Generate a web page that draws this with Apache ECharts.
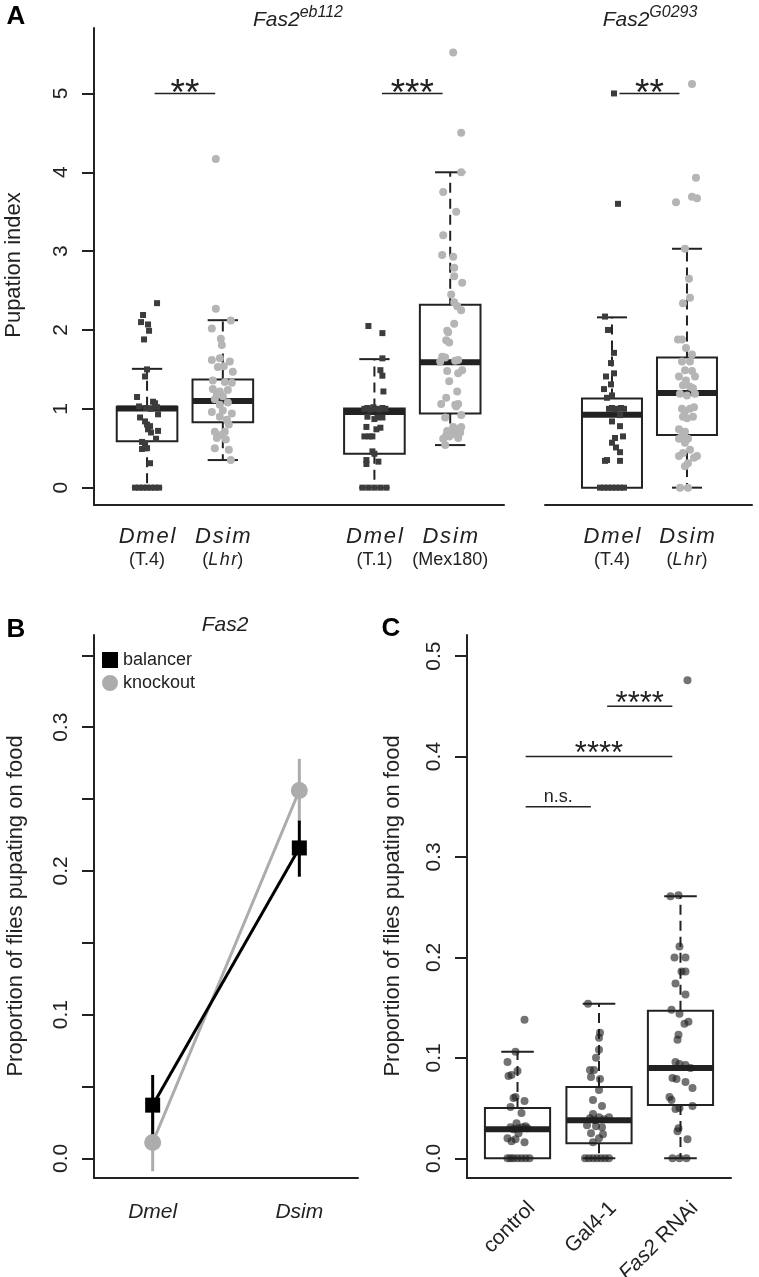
<!DOCTYPE html>
<html>
<head>
<meta charset="utf-8">
<script src="https://cdn.jsdelivr.net/npm/echarts@6/dist/echarts.min.js"></script>
<style>
  html, body { margin: 0; padding: 0; background: #fff; }
  #main { width: 759px; height: 1277px; }
</style>
</head>
<body>
<div id="main"></div>
<script>
const FONT = '"Liberation Sans", Arial, Helvetica, sans-serif';
const INK = '#222';

// ---------- panel A : pupation index ----------
const aSpecies = ['Dmel', 'Dsim', 'Dmel', 'Dsim', 'Dmel', 'Dsim'];
const aStrains = ['T.4', 'Lhr', 'T.1', 'Mex180', 'T.4', 'Lhr'];
const aItalicStrain = [false, true, false, false, false, true];
const aSlots = [1, 2, 4, 5, 1, 2];   // slot on the sub-plot x axis
const aPlot = [0, 0, 0, 0, 1, 1];    // 0 = Fas2 eb112, 1 = Fas2 G0293
// [lower whisker, q1, median, q3, upper whisker]
const aBoxes = [
  [0, 0.587, 1.005, 1.025, 1.507],
  [0.35, 0.831, 1.10, 1.372, 2.124],
  [0, 0.43, 0.96, 1.005, 1.63],
  [0.54, 0.94, 1.59, 2.32, 4.0],
  [0, 0, 0.925, 1.13, 2.16],
  [0, 0.667, 1.20, 1.65, 3.03]
];
const aTicks = [0, 1, 2, 3, 4, 5];
// [from slot, to slot, y, text] per sub-plot
const aSignifEb = [[1, 2, 5, '**'], [4, 5, 5, '***']];
const aSignifG0293 = [[1, 2, 5, '**']];

// points: [jitter (px), pupation index]
const ptsEbDmelT4 = [[10,2.34],[-4,2.19],[-6,2.10],[1,2.07],[2,1.99],[-3,1.88],[0,1.50],[-2,1.41],
  [-10,1.15],[-8,1.03],[6,1.09],[8,1.07],[10,1.02],[4,1.00],[-1,1.01],[-7,0.89],[11,0.93],[-2,0.84],
  [0,0.80],[3,0.78],[1,0.74],[11,0.72],[4,0.70],[9,0.62],[-5,0.58],[-2,0.56],[-5,0.49],[0,0.50],
  [3,0.31],[-12,0],[-8,0],[-4,0],[0,0],[4,0],[8,0],[12,0]];
const ptsEbDsimLhr = [[-7,4.17],[-7,2.27],[8,2.12],[-11,2.02],[-2,1.89],[-1,1.81],[-11,1.62],[-3,1.64],
  [7,1.60],[-5,1.53],[1,1.54],[10,1.47],[-10,1.36],[2,1.34],[9,1.33],[-10,1.25],[-3,1.22],[5,1.24],
  [-6,1.18],[0,1.16],[-8,1.12],[5,1.08],[-3,1.05],[-11,0.96],[0,0.98],[9,0.94],[-3,0.90],[4,0.86],
  [6,0.80],[-8,0.71],[-1,0.67],[2,0.71],[-6,0.63],[3,0.61],[-8,0.50],[6,0.48],[8,0.35]];
const ptsEbDmelT1 = [[-6,2.05],[8,1.96],[8,1.64],[6,1.49],[8,1.42],[9,1.22],[-10,1.0],[-7,1.01],
  [-4,0.99],[-1,1.02],[2,1.0],[5,0.99],[8,1.01],[11,1.0],[-7,0.90],[3,0.89],[8,0.89],[0,0.87],
  [6,0.76],[2,0.74],[-8,0.77],[-10,0.65],[-5,0.65],[-2,0.65],[-2,0.46],[0,0.43],[-8,0.35],[4,0.33],
  [-8,0.30],[-12,0],[-6,0],[0,0],[6,0],[12,0]];
const ptsEbDsimMex180 = [[3,5.52],[11,4.50],[11,4.00],[-7,3.75],[6,3.50],[-7,3.20],[-8,2.95],[3,2.93],
  [4,2.79],[4,2.68],[12,2.60],[1,2.45],[4,2.35],[7,2.30],[11,2.25],[4,2.08],[-3,1.99],[-2,1.97],
  [-4,1.87],[-1,1.84],[-8,1.66],[-5,1.65],[5,1.61],[8,1.62],[-10,1.60],[12,1.49],[-3,1.48],[8,1.45],
  [-1,1.35],[7,1.22],[-4,1.14],[-9,1.06],[5,1.05],[8,1.06],[6,1.03],[11,0.92],[-5,0.89],[3,0.77],
  [11,0.77],[7,0.74],[-3,0.72],[10,0.70],[3,0.68],[-4,0.66],[-7,0.62],[-1,0.65],[8,0.63],[-5,0.54]];
const ptsG0293DmelT4 = [[2,5.00],[6,3.60],[-7,2.17],[-4,2.00],[2,1.71],[-1,1.58],[2,1.45],[-6,1.41],
  [-1,1.31],[-8,1.25],[0,1.17],[-5,1.14],[-3,1.0],[0,1.01],[3,0.99],[6,1.0],[9,1.01],[12,1.0],
  [8,0.92],[0,0.84],[8,0.78],[11,0.65],[3,0.63],[0,0.57],[4,0.51],[8,0.45],[-5,0.35],[-7,0.34],
  [8,0.34],[-12,0],[-8,0],[-4,0],[0,0],[4,0],[8,0],[12,0]];
const ptsG0293DsimLhr = [[5,5.12],[9,3.93],[5,3.69],[10,3.67],[-11,3.62],[-2,3.03],[2,2.65],[3,2.41],
  [-4,2.34],[-9,1.88],[-5,1.88],[-1,1.77],[5,1.69],[-5,1.60],[3,1.60],[-2,1.49],[5,1.48],[-8,1.41],
  [8,1.41],[-1,1.36],[-4,1.30],[3,1.28],[6,1.26],[-7,1.19],[0,1.17],[8,1.19],[-5,1.00],[3,1.00],
  [7,1.02],[-2,0.97],[0,0.88],[6,0.90],[-4,0.90],[-8,0.74],[-2,0.71],[-5,0.65],[1,0.62],[-8,0.62],
  [-2,0.57],[3,0.48],[-4,0.44],[10,0.40],[7,0.38],[-8,0.40],[1,0.31],[-2,0.27],[-7,0],[1,0]];
const aPoints = [ptsEbDmelT4, ptsEbDsimLhr, ptsEbDmelT1, ptsEbDsimMex180, ptsG0293DmelT4, ptsG0293DsimLhr];

// ---------- panel B : Fas2 balancer vs knockout ----------
const bSpecies = ['Dmel', 'Dsim'];
const balancerMean = [0.037, 0.216];
const balancerLow = [0.016, 0.196];
const balancerHigh = [0.058, 0.235];
const knockoutMean = [0.011, 0.256];
const knockoutLow = [-0.009, 0.234];
const knockoutHigh = [0.031, 0.278];
const bTicks = [0, 0.05, 0.1, 0.15, 0.2, 0.25, 0.3, 0.35];
const bLabels = [0, 0.1, 0.2, 0.3];

// ---------- panel C : RNAi ----------
const cGroups = ['control', 'Gal4-1', 'Fas2 RNAi'];
const cBoxes = [
  [0, 0, 0.029, 0.050, 0.106],
  [0, 0.015, 0.038, 0.071, 0.154],
  [0, 0.053, 0.090, 0.147, 0.261]
];
const cTicks = [0, 0.1, 0.2, 0.3, 0.4, 0.5];
const cSignif = [[1, 2, 0.35, 'n.s.'], [1, 3, 0.40, '****'], [2, 3, 0.45, '****']];
const ptsControl = [[7,0.138],[-2,0.106],[-10,0.096],[0,0.087],[-9,0.082],[-6,0.083],[-2,0.061],
  [-4,0.060],[7,0.057],[4,0.045],[-7,0.051],[-1,0.035],[-7,0.031],[-4,0.029],[1,0.030],[5,0.031],
  [8,0.032],[10,0.030],[1,0.025],[-10,0.020],[-2,0.019],[-6,0.017],[7,0.016],[-10,0],[-7,0],[-4,0],
  [0,0],[4,0],[8,0],[12,0]];
const ptsGal4 = [[-11,0.154],[1,0.125],[0,0.120],[0,0.108],[-3,0.100],[-5,0.088],[-9,0.088],[1,0.079],
  [-8,0.081],[0,0.068],[-6,0.058],[3,0.052],[-6,0.044],[0,0.041],[-9,0.040],[5,0.039],[10,0.041],
  [-4,0.038],[-12,0.033],[-3,0.032],[3,0.031],[-8,0.025],[4,0.024],[-6,0.016],[0,0.020],[-14,0],
  [-10,0],[-6,0],[-2,0],[2,0],[6,0],[10,0]];
const ptsFas2RNAi = [[7,0.476],[-10,0.261],[-2,0.262],[-1,0.211],[-6,0.200],[5,0.200],[1,0.186],
  [5,0.186],[-5,0.174],[5,0.163],[-9,0.148],[-1,0.144],[4,0.134],[8,0.136],[-2,0.123],[-3,0.118],
  [-5,0.096],[-1,0.094],[5,0.093],[10,0.090],[-8,0.080],[-4,0.079],[5,0.076],[12,0.070],[-11,0.061],
  [-9,0.058],[12,0.052],[-5,0.049],[-1,0.050],[-2,0.030],[-3,0.027],[7,0.019],[-8,0],[-1,0],[6,0]];
const cPoints = [ptsControl, ptsGal4, ptsFas2RNAi];

// ---------- layout ----------
const grids = [
  {left: 94, top: 28, width: 410, height: 477},
  {left: 545, top: 28, width: 207, height: 477},
  {left: 94, top: 635, width: 264, height: 543},
  {left: 467, top: 635, width: 264, height: 543}
];
const xRanges = [[0.3, 5.71], [0.107, 2.867], [0.6, 2.4], [0.38, 3.62]];
const yRanges = [[-0.22, 5.83], [-0.22, 5.83], [-0.0137, 0.3642], [-0.0196, 0.521]];

function pxUnit(i) { return (xRanges[i][1] - xRanges[i][0]) / grids[i].width; }
function spaced(s) { return s.split('').join('\u200a'); }

function aLabel(plot, value) {
  for (let i = 0; i < aSlots.length; i++) {
    if (aPlot[i] === plot && aSlots[i] === value) {
      const strain = aItalicStrain[i]
        ? '{st|(}{sti|' + spaced(aStrains[i]) + '}{st|)}'
        : '{st|(' + aStrains[i] + ')}';
      return '{sp|' + spaced(aSpecies[i]) + '}\n' + strain;
    }
  }
  return '';
}

const axisLine = {show: true, onZero: false, lineStyle: {color: INK, width: 2}};

function xAxisFor(i, label) {
  return {
    type: 'value', gridIndex: i, min: xRanges[i][0], max: xRanges[i][1],
    axisLine: axisLine, axisTick: {show: false}, splitLine: {show: false},
    axisLabel: label
  };
}
function yAxisFor(i, ticks, labels, fmt) {
  return {
    type: 'value', gridIndex: i, min: yRanges[i][0], max: yRanges[i][1],
    axisLine: axisLine, splitLine: {show: false},
    axisTick: {show: true, length: 12, customValues: ticks, lineStyle: {color: INK, width: 2}},
    axisLabel: {customValues: labels, rotate: 90, margin: 22, fontSize: 21, color: INK,
      fontFamily: FONT, formatter: fmt}
  };
}

function boxRenderer(params, api) {
  const x = api.value(0);
  const lo = api.value(1), q1 = api.value(2), med = api.value(3), q3 = api.value(4), hi = api.value(5);
  const p = (dx, v) => api.coord([x + dx, v]);
  const seg = (a, b, w, dash) => ({
    type: 'line', shape: {x1: a[0], y1: a[1], x2: b[0], y2: b[1]},
    style: {stroke: INK, lineWidth: w, lineDash: dash || null}
  });
  const tl = p(-0.4, q3), br = p(0.4, q1);
  const kids = [
    seg(p(0, q3), p(0, hi), 2, [10, 6]),
    seg(p(-0.2, hi), p(0.2, hi), 2),
    {type: 'rect', shape: {x: tl[0], y: tl[1], width: br[0] - tl[0], height: br[1] - tl[1]},
      style: {fill: 'none', stroke: INK, lineWidth: 2}},
    seg(p(-0.4, med), p(0.4, med), 6)
  ];
  if (lo < q1) {
    kids.push(seg(p(0, q1), p(0, lo), 2, [10, 6]));
    kids.push(seg(p(-0.2, lo), p(0.2, lo), 2));
  }
  return {type: 'group', children: kids};
}

function signifSeries(i, list, starSize, starShift) {
  return {
    type: 'custom', xAxisIndex: i, yAxisIndex: i, z: 5,
    data: list.map(s => [s[0], s[1], s[2]]),
    encode: {x: [0, 1], y: 2},
    renderItem: function (params, api) {
      const label = list[params.dataIndex][3];
      const a = api.coord([api.value(0) + 0.1, api.value(2)]);
      const b = api.coord([api.value(1) - 0.1, api.value(2)]);
      const stars = label.indexOf('*') >= 0;
      const size = stars ? starSize : 18;
      const ty = stars ? a[1] + starShift : a[1] - 10;
      return {type: 'group', children: [
        {type: 'line', shape: {x1: a[0], y1: a[1], x2: b[0], y2: b[1]},
          style: {stroke: INK, lineWidth: 1.6}},
        {type: 'text', x: (a[0] + b[0]) / 2, y: ty,
          style: {text: label, fontSize: size, fontFamily: FONT, fill: INK,
            align: 'center', verticalAlign: 'middle', textAlign: 'center', textVerticalAlign: 'middle'}}
      ]};
    }
  };
}

const series = [];

// panel A boxes + points
[0, 1].forEach(function (plot) {
  const data = [];
  aBoxes.forEach(function (b, i) { if (aPlot[i] === plot) data.push([aSlots[i]].concat(b)); });
  series.push({type: 'custom', xAxisIndex: plot, yAxisIndex: plot, data: data,
    encode: {x: 0, y: [1, 2, 3, 4, 5]}, renderItem: boxRenderer, z: 2});
});
aPoints.forEach(function (pts, i) {
  const plot = aPlot[i];
  const isMel = aSpecies[i] === 'Dmel';
  series.push({
    type: 'scatter', xAxisIndex: plot, yAxisIndex: plot, z: 3,
    symbol: isMel ? 'rect' : 'circle', symbolSize: isMel ? 6 : 8,
    itemStyle: {color: isMel ? '#3c3c3c' : '#b5b5b5', opacity: 1},
    data: pts.map(pt => [aSlots[i] + pt[0] * pxUnit(plot), pt[1]])
  });
});
series.push(signifSeries(0, aSignifEb, 37, 1));
series.push(signifSeries(1, aSignifG0293, 37, 1));

// panel B
function errSeries(low, high, color) {
  return {
    type: 'custom', xAxisIndex: 2, yAxisIndex: 2, z: 2,
    data: low.map((l, k) => [k + 1, l, high[k]]),
    encode: {x: 0, y: [1, 2]},
    renderItem: function (params, api) {
      const a = api.coord([api.value(0), api.value(1)]);
      const b = api.coord([api.value(0), api.value(2)]);
      return {type: 'line', shape: {x1: a[0], y1: a[1], x2: b[0], y2: b[1]},
        style: {stroke: color, lineWidth: 3}};
    }
  };
}
const GREY = '#acacac';
series.push(errSeries(knockoutLow, knockoutHigh, GREY));
series.push({type: 'line', name: 'knockout', xAxisIndex: 2, yAxisIndex: 2, z: 2,
  data: knockoutMean.map((v, k) => [k + 1, v]), symbol: 'circle', symbolSize: 17,
  lineStyle: {color: GREY, width: 3}, itemStyle: {color: GREY}});
series.push(errSeries(balancerLow, balancerHigh, '#000'));
series.push({type: 'line', name: 'balancer', xAxisIndex: 2, yAxisIndex: 2, z: 2,
  data: balancerMean.map((v, k) => [k + 1, v]), symbol: 'rect', symbolSize: 15,
  lineStyle: {color: '#000', width: 3}, itemStyle: {color: '#000'}});

// panel C
series.push({type: 'custom', xAxisIndex: 3, yAxisIndex: 3, z: 2,
  data: cBoxes.map((b, k) => [k + 1].concat(b)),
  encode: {x: 0, y: [1, 2, 3, 4, 5]}, renderItem: boxRenderer});
cPoints.forEach(function (pts, k) {
  series.push({type: 'scatter', xAxisIndex: 3, yAxisIndex: 3, z: 3,
    symbol: 'circle', symbolSize: 8,
    itemStyle: {color: 'rgba(30,30,30,0.78)'},
    data: pts.map(pt => [k + 1 + pt[0] * pxUnit(3), pt[1]])});
});
series.push(signifSeries(3, cSignif, 31, -2));

const richA = {
  sp: {fontSize: 22, fontStyle: 'italic', lineHeight: 24, color: INK, fontFamily: FONT},
  st: {fontSize: 18, lineHeight: 22, color: INK, fontFamily: FONT},
  sti: {fontSize: 18, fontStyle: 'italic', lineHeight: 22, color: INK, fontFamily: FONT}
};

const option = {
  animation: false,
  backgroundColor: '#fff',
  grid: grids.map(g => Object.assign({containLabel: false, outerBoundsMode: 'none'}, g)),
  xAxis: [
    xAxisFor(0, {customValues: [1, 2, 4, 5], margin: 20, formatter: v => aLabel(0, v), rich: richA}),
    xAxisFor(1, {customValues: [1, 2], margin: 20, formatter: v => aLabel(1, v), rich: richA}),
    xAxisFor(2, {customValues: [1, 2], margin: 22, fontSize: 21, fontStyle: 'italic', color: INK,
      fontFamily: FONT, lineHeight: 24, formatter: v => bSpecies[v - 1]}),
    xAxisFor(3, {customValues: [1, 2, 3], rotate: 45, margin: 13, verticalAlign: 'top',
      fontSize: 21, lineHeight: 40, color: INK, fontFamily: FONT,
      formatter: v => cGroups[v - 1].replace('Fas2', '{it|Fas2}'),
      rich: {it: {fontSize: 21, fontStyle: 'italic', lineHeight: 40, color: INK, fontFamily: FONT}}})
  ],
  yAxis: [
    yAxisFor(0, aTicks, aTicks, v => String(v)),
    Object.assign(yAxisFor(1, aTicks, aTicks, v => String(v)), {show: false}),
    yAxisFor(2, bTicks, bLabels, v => v.toFixed(1)),
    yAxisFor(3, cTicks, cTicks, v => v.toFixed(1))
  ],
  legend: {
    left: 97, top: 646, orient: 'vertical', itemWidth: 16, itemHeight: 16, itemGap: 5,
    textStyle: {fontSize: 18, color: INK, fontFamily: FONT},
    data: [{name: 'balancer', icon: 'rect'}, {name: 'knockout', icon: 'circle'}]
  },
  graphic: [
    {type: 'text', x: 16, y: 17, style: {text: 'A', fontSize: 26, fontWeight: 'bold', fontFamily: FONT,
      fill: '#000', align: 'center', verticalAlign: 'middle'}},
    {type: 'text', x: 16, y: 630, style: {text: 'B', fontSize: 26, fontWeight: 'bold', fontFamily: FONT,
      fill: '#000', align: 'center', verticalAlign: 'middle'}},
    {type: 'text', x: 391, y: 629, style: {text: 'C', fontSize: 26, fontWeight: 'bold', fontFamily: FONT,
      fill: '#000', align: 'center', verticalAlign: 'middle'}},
    {type: 'text', x: 298, y: 20, style: {text: '{a|Fas2}{s|eb112}', align: 'center', verticalAlign: 'middle',
      rich: {a: {fontSize: 21, fontStyle: 'italic', fontFamily: FONT, fill: INK, lineHeight: 30},
             s: {fontSize: 16, fontStyle: 'italic', fontFamily: FONT, fill: INK, lineHeight: 13, verticalAlign: 'top'}}}},
    {type: 'text', x: 650, y: 20, style: {text: '{a|Fas2}{s|G0293}', align: 'center', verticalAlign: 'middle',
      rich: {a: {fontSize: 21, fontStyle: 'italic', fontFamily: FONT, fill: INK, lineHeight: 30},
             s: {fontSize: 16, fontStyle: 'italic', fontFamily: FONT, fill: INK, lineHeight: 13, verticalAlign: 'top'}}}},
    {type: 'text', x: 225, y: 625, style: {text: 'Fas2', fontSize: 21, fontStyle: 'italic', fontFamily: FONT,
      fill: INK, align: 'center', verticalAlign: 'middle'}},
    {type: 'text', x: 14, y: 265, rotation: Math.PI / 2, style: {text: 'Pupation index', fontSize: 22,
      fontFamily: FONT, fill: INK, align: 'center', verticalAlign: 'middle'}},
    {type: 'text', x: 16, y: 906, rotation: Math.PI / 2, style: {text: 'Proportion of flies pupating on food',
      fontSize: 22, fontFamily: FONT, fill: INK, align: 'center', verticalAlign: 'middle'}},
    {type: 'text', x: 393, y: 906, rotation: Math.PI / 2, style: {text: 'Proportion of flies pupating on food',
      fontSize: 22, fontFamily: FONT, fill: INK, align: 'center', verticalAlign: 'middle'}}
  ],
  series: series
};

const chart = echarts.init(document.getElementById('main'), null, {renderer: 'canvas', width: 759, height: 1277});
chart.setOption(option);
</script>
</body>
</html>
